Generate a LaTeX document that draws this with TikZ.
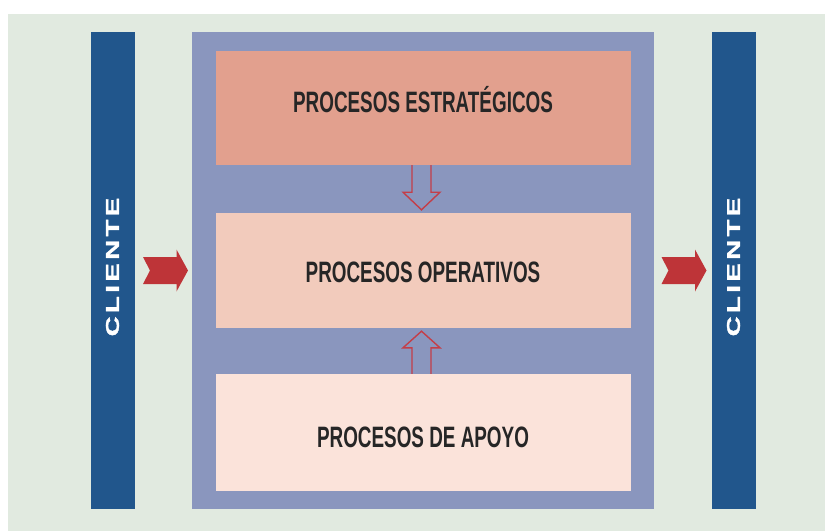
\documentclass[tikz,border=0pt]{standalone}
\usepackage{fontspec}
\setmainfont{Liberation Sans}
\newfontfamily\labelfont[FakeStretch=0.64]{Liberation Sans Bold}
\newfontfamily\clientfont[FakeStretch=1.5,LetterSpace=18,FakeBold=1.5]{Liberation Sans Bold}
\usetikzlibrary{calc}

\definecolor{pagebg}{RGB}{225,234,224}
\definecolor{clientblue}{RGB}{33,86,140}
\definecolor{frameviolet}{RGB}{138,150,190}
\definecolor{stratfill}{RGB}{226,160,142}
\definecolor{operfill}{RGB}{242,203,188}
\definecolor{apoyofill}{RGB}{251,227,218}
\definecolor{chevred}{RGB}{190,52,56}
\definecolor{outlinered}{RGB}{196,62,72}
\definecolor{labelink}{RGB}{38,38,38}

\tikzset{
  clientbar/.style={fill=clientblue, inner sep=0pt, minimum width=44pt, minimum height=477pt},
  frame/.style={fill=frameviolet, inner sep=0pt, minimum width=462pt, minimum height=477pt},
  procbox/.style={inner sep=0pt, minimum width=415pt},
  proclabel/.style={anchor=base, inner sep=0pt, text=labelink,
    font=\labelfont\fontsize{29.5}{31}\selectfont},
  clientlabel/.style={rotate=90, inner sep=0pt, text=white,
    font=\clientfont\fontsize{18.5}{20}\selectfont},
  hollowarrow/.style={draw=outlinered, line width=1.4pt, line join=miter},
  chev/.pic={\fill[chevred] (-22.5,-13.5) -- (11,-13.5) -- (11,-21) -- (22.5,0)
     -- (11,21) -- (11,13.5) -- (-22.5,13.5) -- (-15.5,0) -- cycle;}
}

\begin{document}
\begin{tikzpicture}[x=1pt, y=-1pt]
  % page and background panel
  \useasboundingbox (0,0) rectangle (825,531);
  \fill[white] (0,0) rectangle (825,531);
  \fill[pagebg] (8,14) rectangle (825,531);

  % client bars
  \node[clientbar] (cliL) at (113,270.5) {};
  \node[clientbar] (cliR) at (734,270.5) {};
  \node[clientlabel] (cliLtxt) at (112.5,267) {CLIENTE};
  \node[clientlabel] (cliRtxt) at (733.5,267) {CLIENTE};

  % process frame and the three process levels
  \node[frame] (proc) at (423,270.5) {};
  \node[procbox, fill=stratfill, minimum height=114pt] (top) at (423.5,108) {};
  \node[procbox, fill=operfill,  minimum height=115pt] (mid) at (423.5,270.5) {};
  \node[procbox, fill=apoyofill, minimum height=117pt] (bot) at (423.5,432.5) {};

  \node[proclabel] (topTxt) at (423,112) {PROCESOS ESTRATÉGICOS};
  \node[proclabel] (midTxt) at (423,282) {PROCESOS OPERATIVOS};
  \node[proclabel] (botTxt) at (423,447) {PROCESOS DE APOYO};

  % hollow arrows between levels
  \draw[hollowarrow] ($(top.south)+(-11.5,0)$) -- ++(0,27) -- ++(-9,0)
     -- ($(mid.north)+(-2,-3)$) -- ($(top.south)+(16.5,27)$) -- ++(-9,0) -- ++(0,-27);
  \draw[hollowarrow] ($(bot.north)+(-11.5,0)$) -- ++(0,-26) -- ++(-9,0)
     -- ($(mid.south)+(-2,3)$) -- ($(bot.north)+(16.5,-26)$) -- ++(-9,0) -- ++(0,26);

  % input and output arrows
  \coordinate (inArrow) at ($(cliL.east)!0.5!(proc.west)$);
  \coordinate (outArrow) at ($(proc.east)!0.5!(cliR.west)$);
  \pic at ([xshift=2pt]inArrow) {chev};
  \pic at ([xshift=1pt]outArrow) {chev};
\end{tikzpicture}
\end{document}
